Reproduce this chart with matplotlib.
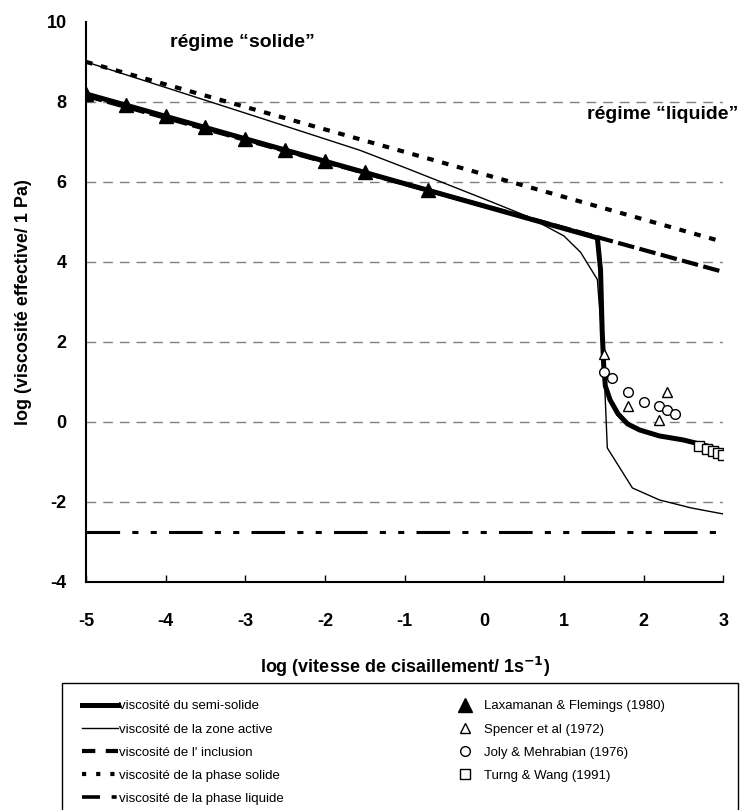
import numpy as np
import matplotlib
matplotlib.use("Agg")
import matplotlib.pyplot as plt
from matplotlib.patches import Rectangle
from matplotlib.lines import Line2D

plt.rcParams['font.family'] = ['Liberation Sans', 'DejaVu Sans']

# courbes
semi_x = [-5.0, 1.42, 1.46, 1.48, 1.50, 1.52, 1.58, 1.68, 1.80, 1.95, 2.2, 2.5, 2.8, 3.0]
semi_y = [8.2, 4.6, 3.8, 2.3, 1.4, 0.9, 0.55, 0.2, -0.05, -0.2, -0.35, -0.45, -0.6, -0.75]

active_x = [-5.0, -3.0, -1.56, -1.0, 0.08, 0.54, 1.0, 1.21, 1.42, 1.5, 1.545, 1.86, 2.2, 2.6, 3.0]
active_y = [9.0, 7.72, 6.79, 6.36, 5.51, 5.14, 4.65, 4.24, 3.56, 1.48, -0.65, -1.65, -1.95, -2.15, -2.3]

incl_x = [-5.0, 3.0]
incl_y = [8.15, 3.75]

solide_x = [-5.0, 3.0]
solide_y = [9.0, 4.5]

liquide_x = [-5.0, 3.0]
liquide_y = [-2.75, -2.75]

# points experimentaux
lax_x = [-5.0, -4.5, -4.0, -3.5, -3.0, -2.5, -2.0, -1.5, -0.7]
lax_y = [8.2, 7.92, 7.64, 7.36, 7.08, 6.80, 6.52, 6.24, 5.80]

spencer_x = [1.5, 1.8, 2.2, 2.3]
spencer_y = [1.7, 0.4, 0.05, 0.75]

joly_x = [1.5, 1.6, 1.8, 2.0, 2.2, 2.3, 2.4]
joly_y = [1.25, 1.1, 0.75, 0.5, 0.4, 0.3, 0.2]

turng_x = [2.7, 2.8, 2.87, 2.93, 3.0]
turng_y = [-0.6, -0.67, -0.72, -0.77, -0.82]

x_ticks = [-5, -4, -3, -2, -1, 0, 1, 2, 3]
y_ticks = [-4, -2, 0, 2, 4, 6, 8, 10]
grid_y = [-2, 0, 2, 4, 6, 8]

fig = plt.figure(figsize=(7.41, 8.10), dpi=100)
ax = fig.add_axes([0.116, 0.2815, 0.860, 0.6915])

for g in grid_y:
    ax.axhline(g, color='#808080', lw=1, dashes=(7, 5), zorder=0)

l_semi, = ax.plot(semi_x, semi_y, color='black', lw=3.6, solid_joinstyle='miter')
l_act, = ax.plot(active_x, active_y, color='black', lw=1)
l_incl, = ax.plot(incl_x, incl_y, color='black', lw=3, dashes=(4, 1.3))
l_sol, = ax.plot(solide_x, solide_y, color='black', lw=3, dashes=(1.6, 2.1))
l_liq, = ax.plot(liquide_x, liquide_y, color='black', lw=2.2, dashes=(11, 4, 2, 4, 2, 4))

m_lax, = ax.plot(lax_x, lax_y, ls='none', marker='^', ms=10, color='black')
m_sp, = ax.plot(spencer_x, spencer_y, ls='none', marker='^', ms=7, mfc='white', mec='black', mew=1)
m_jo, = ax.plot(joly_x, joly_y, ls='none', marker='o', ms=7, mfc='white', mec='black', mew=1)
m_tu, = ax.plot(turng_x, turng_y, ls='none', marker='s', ms=6.5, mfc='white', mec='black', mew=1)

ax.set_xlim(-5, 3)
ax.set_ylim(-4, 10)
ax.set_xticks(x_ticks)
ax.set_yticks(y_ticks)
ax.set_xticklabels([str(v) for v in x_ticks], fontweight='bold', fontsize=13)
ax.set_yticklabels([str(v) for v in y_ticks], fontweight='bold', fontsize=13)
ax.tick_params(axis='x', direction='in', length=5, width=1, pad=22)
ax.tick_params(axis='y', direction='in', length=0, pad=14)
for s in ['top', 'right']:
    ax.spines[s].set_visible(False)
for s in ['left', 'bottom']:
    ax.spines[s].set_linewidth(1.5)

ax.set_xlabel('log (vitesse de cisaillement/ 1s$^{\\mathbf{-1}}$)', fontweight='bold', fontsize=13, labelpad=18)
ax.set_ylabel('log (viscosité effective/ 1 Pa)', fontweight='bold', fontsize=13, labelpad=10)

fig.text(0.23, 0.948, 'régime “solide”', fontweight='bold', fontsize=14, va='center')
fig.text(0.997, 0.859, 'régime “liquide”', fontweight='bold', fontsize=14, va='center', ha='right')

# cadre de la légende (coupé en bas comme l'original)
fig.patches.append(Rectangle((0.0837, -0.05), 0.912, 0.207, transform=fig.transFigure,
                             fill=False, edgecolor='black', lw=1))

# échantillons de légende : tirets plus courts pour que le motif soit visible
h_incl = Line2D([], [], color='black', lw=3, dashes=(3.2, 2.5))
h_sol = Line2D([], [], color='black', lw=3, dashes=(1.0, 2.4))
h_liq = Line2D([], [], color='black', lw=2.6, dashes=(5, 3.2, 1.4, 3))

handles = [l_semi, l_act, h_incl, h_sol, h_liq, m_lax, m_sp, m_jo, m_tu]
labels = ['viscosité du semi-solide', 'viscosité de la zone active', "viscosité de l' inclusion",
          'viscosité de la phase solide', 'viscosité de la phase liquide',
          'Laxamanan & Flemings (1980)', 'Spencer et al (1972)', 'Joly & Mehrabian (1976)',
          'Turng & Wang (1991)']
leg = fig.legend(handles, labels, loc='upper left', bbox_to_anchor=(0.1107, 0.1355),
                 ncol=2, frameon=False, fontsize=9.5, handlelength=2.7, handletextpad=0.1,
                 labelspacing=0.82, borderaxespad=0, borderpad=0, columnspacing=12.4)

fig.savefig('out.png', dpi=100)
